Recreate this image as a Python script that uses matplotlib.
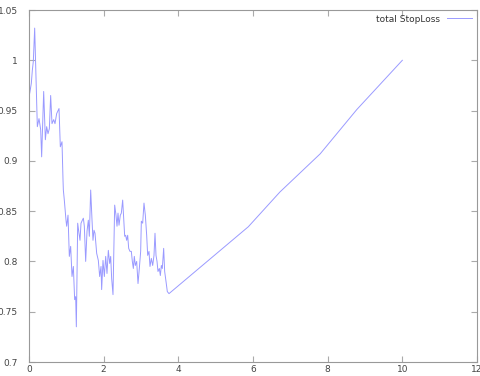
import matplotlib
matplotlib.use('Agg')
import matplotlib.pyplot as plt

# total StopLoss series: noisy run, then the smooth recovery leg
x = [0.000, 0.018, 0.062, 0.089, 0.116, 0.152, 0.223, 0.268, 0.313, 0.339,
     0.393, 0.438, 0.473, 0.509, 0.545, 0.580, 0.616, 0.661, 0.696, 0.741,
     0.804, 0.839, 0.884, 0.911, 0.920, 0.946, 0.991, 1.009, 1.045, 1.080,
     1.116, 1.152, 1.188, 1.223, 1.250, 1.268, 1.304, 1.339, 1.366, 1.393,
     1.429, 1.456, 1.482, 1.518, 1.554, 1.589, 1.616, 1.652, 1.688, 1.714,
     1.741, 1.768, 1.813, 1.857, 1.893, 1.929, 1.946, 1.982, 2.018, 2.054,
     2.089, 2.125, 2.161, 2.188, 2.214, 2.250, 2.295, 2.330, 2.357, 2.384,
     2.411, 2.446, 2.473, 2.509, 2.536, 2.563, 2.589, 2.616, 2.643, 2.670,
     2.705, 2.741, 2.768, 2.795, 2.821, 2.848, 2.884, 2.920, 2.955, 2.991,
     3.009, 3.045, 3.080, 3.116, 3.152, 3.179, 3.214, 3.241, 3.277, 3.313,
     3.348, 3.375, 3.402, 3.429, 3.455, 3.491, 3.518, 3.545, 3.571, 3.607,
     3.634, 3.670, 3.705, 3.750, 5.875, 6.720, 7.800, 8.780, 10.000]
y = [1.000, 0.967, 0.977, 0.990, 0.999, 1.032, 0.934, 0.942, 0.931, 0.904,
     0.969, 0.921, 0.934, 0.927, 0.932, 0.965, 0.937, 0.941, 0.937, 0.947,
     0.952, 0.914, 0.919, 0.881, 0.871, 0.861, 0.841, 0.835, 0.846, 0.805,
     0.815, 0.785, 0.795, 0.762, 0.765, 0.735, 0.838, 0.828, 0.821, 0.838,
     0.841, 0.843, 0.835, 0.800, 0.830, 0.841, 0.825, 0.871, 0.841, 0.821,
     0.831, 0.828, 0.808, 0.801, 0.785, 0.795, 0.772, 0.801, 0.785, 0.805,
     0.788, 0.811, 0.798, 0.805, 0.783, 0.767, 0.856, 0.846, 0.835, 0.848,
     0.836, 0.846, 0.848, 0.861, 0.843, 0.825, 0.826, 0.821, 0.826, 0.813,
     0.810, 0.810, 0.800, 0.793, 0.805, 0.796, 0.800, 0.778, 0.793, 0.810,
     0.840, 0.838, 0.858, 0.846, 0.826, 0.806, 0.810, 0.795, 0.803, 0.796,
     0.806, 0.828, 0.806, 0.800, 0.790, 0.793, 0.786, 0.796, 0.793, 0.813,
     0.790, 0.780, 0.770, 0.768, 0.8345, 0.869, 0.907, 0.951, 1.000]

xticks = [0, 2, 4, 6, 8, 10, 12]
yticks = [0.7, 0.75, 0.8, 0.85, 0.9, 0.95, 1.0, 1.05]
ytick_labels = ['0.7', '0.75', '0.8', '0.85', '0.9', '0.95', '1', '1.05']

fig = plt.figure(figsize=(4.81, 3.76), dpi=100)
ax = fig.add_axes([29 / 481, 14 / 376, 448 / 481, 352 / 376])

ax.plot(x, y, color='#9a9aff', linewidth=0.7, label='total StopLoss')

ax.set_xlim(0, 12)
ax.set_ylim(0.7, 1.05)
ax.set_xticks(xticks)
ax.set_yticks(yticks)
ax.set_yticklabels(ytick_labels)

for s in ax.spines.values():
    s.set_color('#999999')
    s.set_linewidth(0.8)
ax.tick_params(direction='in', length=4, width=0.8, color='#aaaaaa',
               labelsize=6.5, labelcolor='#444444', top=True, right=True)
ax.tick_params(axis='x', pad=2)
ax.tick_params(axis='y', pad=8)

ax.legend(loc='upper right', frameon=False, fontsize=6.5, markerfirst=False,
          handlelength=2.8, borderaxespad=0.1, labelcolor='#333333')

fig.savefig('out.png', dpi=100)
